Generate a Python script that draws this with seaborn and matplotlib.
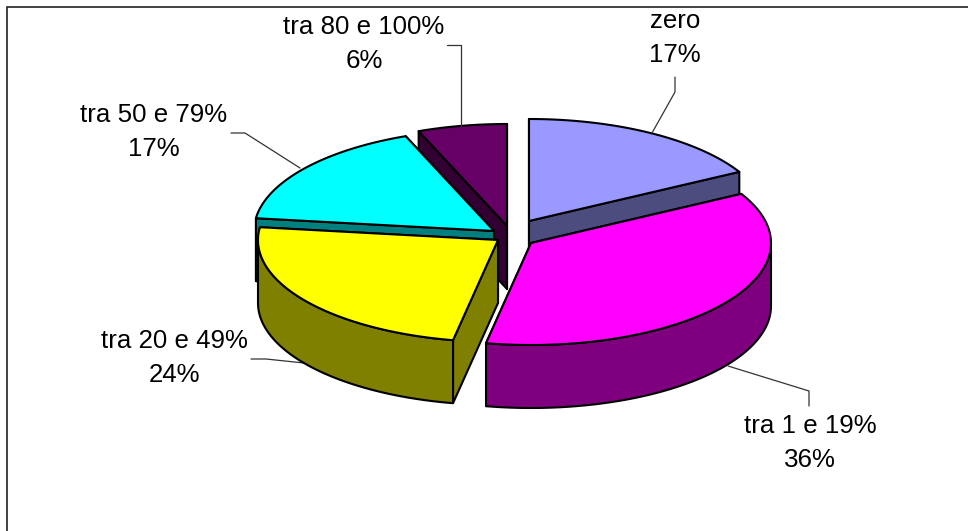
import numpy as np
import matplotlib
matplotlib.use("Agg")
import matplotlib.pyplot as plt
import seaborn as sns

# Data
categories = ["zero", "tra 1 e 19%", "tra 20 e 49%", "tra 50 e 79%", "tra 80 e 100%"]
values = [17, 36, 24, 17, 6]

# Style and layout
top_colors = ["#9999FF", "#FF00FF", "#FFFF00", "#00FFFF", "#660066"]
side_colors = ["#4C4C7F", "#7F007F", "#7F7F00", "#007F7F", "#330033"]
apex_x = [529, 531, 498, 494, 507]
apex_y = [221, 243, 240, 231, 226]
label_x = [675, 810, 174, 154, 364]
label_y = [38, 443, 358, 132, 44]
leader_x = [[675, 675, 652], [728, 809, 809], [251, 266, 304], [231, 245, 300], [447, 461, 461]]
leader_y = [[77, 92, 133], [366, 391, 406], [359, 359, 363], [133, 133, 168], [45, 45, 126]]
rx, ry, depth = 240, 102, 63
draw_order = [4, 3, 0, 2, 1]

sns.set_theme(style="white", rc={"font.family": ["Liberation Sans", "DejaVu Sans"]})

fig = plt.figure(figsize=(9.68, 5.31), dpi=100, facecolor="white")
ax = fig.add_axes([0, 0, 1, 1])
ax.set_xlim(0, 968)
ax.set_ylim(531, 0)
ax.axis("off")

# Frame: only top and left edges fall within the picture
ax.plot([7, 7, 968], [531, 7, 7], color="#222222", lw=1.2, zorder=1, solid_joinstyle="miter")

fractions = np.array(values) / np.sum(values)
ends = np.cumsum(fractions) * 360
starts = ends - fractions * 360
edge = dict(edgecolor="black", linewidth=1.5, joinstyle="round")


def rim(cx, cy, a0, a1, dy=0.0):
    t = np.radians(np.linspace(a0, a1, 120))
    return cx + rx * np.sin(t), cy - ry * np.cos(t) + dy


z = 2
for i in draw_order:
    cx, cy, a0, a1 = apex_x[i], apex_y[i], starts[i], ends[i]
    # radial cut faces, the one whose rim lies further back first
    faces = sorted((a0, a1), key=lambda a: rim(cx, cy, a, a)[1][0])
    for a in faces:
        rxp, ryp = rim(cx, cy, a, a, 0)
        ax.fill([cx, rxp[0], rxp[0], cx], [cy, ryp[0], ryp[0] + depth, cy + depth],
                facecolor=side_colors[i], zorder=z, **edge)
        z += 1
    # front outer wall
    w0, w1 = max(a0, 90), min(a1, 270)
    if w1 > w0:
        xs, ys = rim(cx, cy, w0, w1)
        ax.fill(np.r_[xs, xs[::-1]], np.r_[ys, ys[::-1] + depth],
                facecolor=side_colors[i], zorder=z, **edge)
        z += 1
    # top surface
    xs, ys = rim(cx, cy, a0, a1)
    ax.fill(np.r_[cx, xs], np.r_[cy, ys], facecolor=top_colors[i], zorder=z, **edge)
    z += 1

# Leader lines and labels
for i, name in enumerate(categories):
    ax.plot(leader_x[i], leader_y[i], color="#333333", lw=0.9, zorder=z - 0.5 if i != 2 else 1)
    ax.text(label_x[i], label_y[i], f"{name}\n{values[i]}%", ha="center", va="center",
            fontsize=18.6, color="black", linespacing=1.52, zorder=z)

fig.savefig("out.png", dpi=100)
